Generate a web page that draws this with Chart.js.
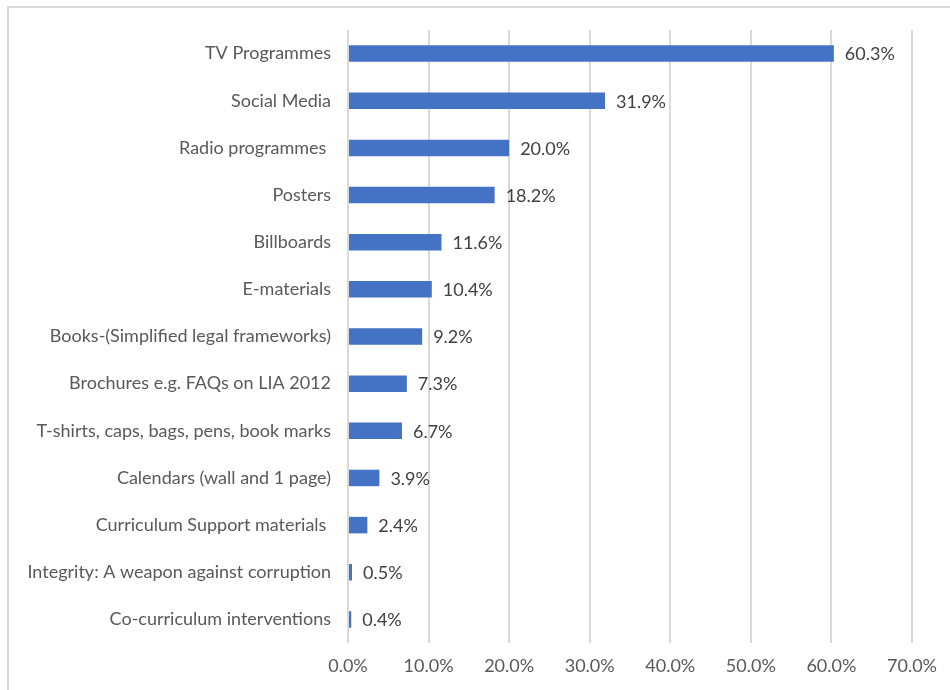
<!DOCTYPE html>
<html>
<head>
<meta charset="utf-8">
<script src="https://cdn.jsdelivr.net/npm/chart.js@4/dist/chart.umd.min.js"></script>
<style>
  html, body { margin: 0; padding: 0; background: #fff; }
  #frame {
    position: absolute; left: 7px; top: 6px; width: 960px; height: 700px;
    border: 2px solid #d9d9d9; box-sizing: border-box;
  }
  #wrap { position: absolute; left: 0; top: 0; width: 950px; height: 690px; }
</style>
</head>
<body>
<div id="frame"></div>
<div id="wrap"><canvas id="chart"></canvas></div>
<script>
const categories = [
  "TV Programmes",
  "Social Media",
  "Radio programmes ",
  "Posters",
  "Billboards",
  "E-materials",
  "Books-(Simplified legal frameworks)",
  "Brochures e.g. FAQs on LIA 2012",
  "T-shirts, caps, bags, pens, book marks",
  "Calendars (wall and 1 page)",
  "Curriculum Support materials ",
  "Integrity: A weapon against corruption",
  "Co-curriculum interventions"
];
const shares = [60.3, 31.9, 20.0, 18.2, 11.6, 10.4, 9.2, 7.3, 6.7, 3.9, 2.4, 0.5, 0.4];
const xTicks = [0, 10, 20, 30, 40, 50, 60, 70];

const fontFamily = "Lato, 'Open Sans', sans-serif";

// value text to the right of each bar
const barValueLabels = {
  id: "barValueLabels",
  afterDatasetsDraw(chart) {
    const ctx = chart.ctx;
    const meta = chart.getDatasetMeta(0);
    ctx.save();
    ctx.font = "18px " + fontFamily;
    ctx.fillStyle = "#404040";
    ctx.textAlign = "left";
    ctx.textBaseline = "middle";
    meta.data.forEach(function (bar, i) {
      ctx.fillText(shares[i].toFixed(1) + "%", bar.x + 11, bar.y + 1);
    });
    ctx.restore();
  }
};

new Chart(document.getElementById("chart"), {
  type: "bar",
  data: {
    labels: categories,
    datasets: [{
      data: shares,
      backgroundColor: "#4472C4",
      borderWidth: 0,
      categoryPercentage: 1,
      barPercentage: 0.35
    }]
  },
  options: {
    indexAxis: "y",
    responsive: true,
    maintainAspectRatio: false,
    animation: false,
    layout: { padding: { top: 30, right: 38, bottom: 0, left: 0 } },
    plugins: {
      legend: { display: false },
      tooltip: { enabled: false }
    },
    scales: {
      x: {
        min: 0,
        max: 70,
        afterBuildTicks(scale) {
          scale.ticks = xTicks.map(function (v) { return { value: v }; });
        },
        afterFit(scale) { scale.height = 47; },
        grid: { color: "#d9d9d9", lineWidth: 2, drawTicks: false },
        border: { display: false },
        ticks: {
          color: "#595959",
          padding: 12,
          font: { family: fontFamily, size: 18 },
          callback: function (v) { return Number(v).toFixed(1) + "%"; }
        }
      },
      y: {
        afterFit(scale) { scale.width = 348; },
        grid: { display: false, drawTicks: false },
        border: { display: false },
        ticks: {
          color: "#595959",
          padding: 17,
          font: { family: fontFamily, size: 18 }
        }
      }
    }
  },
  plugins: [barValueLabels]
});
</script>
</body>
</html>
